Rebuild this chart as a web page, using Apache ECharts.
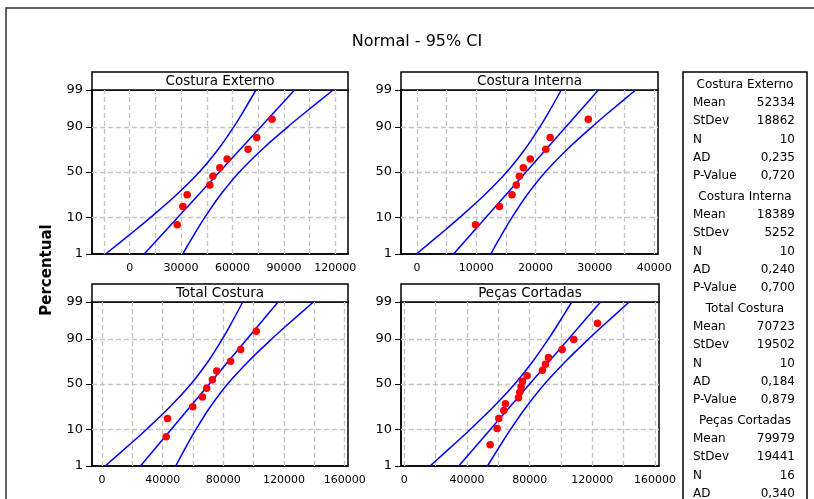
<!DOCTYPE html>
<html>
<head>
<meta charset="utf-8">
<title>Normal - 95% CI</title>
<script src="https://cdn.jsdelivr.net/npm/echarts@6/dist/echarts.min.js"></script>
<style>
html, body { margin: 0; padding: 0; background: #fff; }
#main { width: 814px; height: 499px; }
</style>
</head>
<body>
<div id="main"></div>
<script>
var FONT = 'DejaVu Sans';

var panelNames = ['Costura Externo', 'Costura Interna', 'Total Costura', 'Peças Cortadas'];

// valores observados (ordenados) e posições em percentual
var ptsExterno = [27730, 31040, 33560, 46760, 48510, 52590, 56850, 69080, 74140, 83070];
var ptsInterna = [9870, 13900, 16020, 16750, 17250, 17930, 19100, 21730, 22460, 28890];
var ptsTotal = [42300, 43180, 59840, 66190, 69040, 72770, 75620, 84820, 91400, 101700];
var ptsPecas = [54760, 59230, 60300, 63490, 64550, 72850, 73700, 74550, 75400, 78380, 88170, 90080, 92000, 100720, 108170, 123280];
var pct10 = [6.73, 16.35, 25.96, 35.58, 45.19, 54.81, 64.42, 74.04, 83.65, 93.27];
var pct16 = [4.27, 10.37, 16.46, 22.56, 28.66, 34.76, 40.85, 46.95, 53.05, 59.15, 65.24, 71.34, 77.44, 83.54, 89.63, 95.73];

// reta ajustada (x em 1% e 99%)
var fitPct = [1, 99];
var fitExterno = [8455, 96213];
var fitInterna = [6171, 30607];
var fitTotal = [25355, 116091];
var fitPecas = [34753, 125205];

// bandas de confiança 95%
var bandPct = [1, 5, 10, 25, 50, 75, 90, 95, 99];
var loExterno = [-14050, 3376, 12384, 26659, 40643, 52104, 60731, 65428, 73707];
var hiExterno = [30961, 39240, 43937, 52564, 64025, 78009, 92284, 101292, 118718];
var loInterna = [-95, 4757, 7265, 11240, 15134, 18325, 20727, 22035, 24340];
var hiInterna = [12438, 14743, 16051, 18453, 21644, 25538, 29513, 32021, 36873];
var loTotal = [2086, 20104, 29417, 44177, 58635, 70485, 79405, 84261, 92821];
var hiTotal = [48625, 57185, 62041, 70961, 82811, 97269, 112029, 121342, 139360];
var loPecas = [16415, 33389, 42208, 56312, 70453, 82538, 92039, 97346, 106866];
var hiPecas = [53092, 62612, 67919, 77420, 89505, 103646, 117750, 126569, 143543];

// eixos
var xMin = [-22000, -2700, -6600, -2100];
var xMax = [127400, 40650, 162200, 162550];
var ticksExterno = [0, 30000, 60000, 90000, 120000];
var ticksInterna = [0, 10000, 20000, 30000, 40000];
var ticksTotal = [0, 40000, 80000, 120000, 160000];
var ticksPecas = [0, 40000, 80000, 120000, 160000];
var gridExterno = [-15000, 0, 15000, 30000, 45000, 60000, 75000, 90000, 105000, 120000];
var gridInterna = [0, 5000, 10000, 15000, 20000, 25000, 30000, 35000, 40000];
var gridTotal = [0, 20000, 40000, 60000, 80000, 100000, 120000, 140000, 160000];
var gridPecas = [0, 20000, 40000, 60000, 80000, 100000, 120000, 140000, 160000];
var yTickPct = [1, 10, 50, 90, 99];
var yGridPct = [10, 50, 90];

// estatísticas da legenda
var statMean = ['52334', '18389', '70723', '79979'];
var statStDev = ['18862', '5252', '19502', '19441'];
var statN = ['10', '10', '10', '16'];
var statAD = ['0,235', '0,240', '0,184', '0,340'];
var statP = ['0,720', '0,700', '0,879', null];

// inversa da normal (Acklam) - escala de probabilidade
function probit(p) {
    var a = [-3.969683028665376e+01, 2.209460984245205e+02, -2.759285104469687e+02, 1.383577518672690e+02, -3.066479806614716e+01, 2.506628277459239e+00];
    var b = [-5.447609879822406e+01, 1.615858368580409e+02, -1.556989798598866e+02, 6.680131188771972e+01, -1.328068155288572e+01];
    var c = [-7.784894002430293e-03, -3.223964580411365e-01, -2.400758277161838e+00, -2.549732539343734e+00, 4.374664141464968e+00, 2.938163982698783e+00];
    var d = [7.784695709041462e-03, 3.224671290700398e-01, 2.445134137142996e+00, 3.754408661907416e+00];
    var pl = 0.02425, q, r;
    if (p < pl) {
        q = Math.sqrt(-2 * Math.log(p));
        return (((((c[0] * q + c[1]) * q + c[2]) * q + c[3]) * q + c[4]) * q + c[5]) / ((((d[0] * q + d[1]) * q + d[2]) * q + d[3]) * q + 1);
    }
    if (p > 1 - pl) {
        q = Math.sqrt(-2 * Math.log(1 - p));
        return -(((((c[0] * q + c[1]) * q + c[2]) * q + c[3]) * q + c[4]) * q + c[5]) / ((((d[0] * q + d[1]) * q + d[2]) * q + d[3]) * q + 1);
    }
    q = p - 0.5; r = q * q;
    return (((((a[0] * r + a[1]) * r + a[2]) * r + a[3]) * r + a[4]) * r + a[5]) * q / (((((b[0] * r + b[1]) * r + b[2]) * r + b[3]) * r + b[4]) * r + 1);
}
function z(pct) { return probit(pct / 100); }
function pairs(xs, ps) { return xs.map(function (x, i) { return [x, z(ps[i])]; }); }

var panels = [
    { pts: ptsExterno, pct: pct10, fit: fitExterno, lo: loExterno, hi: hiExterno, ticks: ticksExterno, grid: gridExterno },
    { pts: ptsInterna, pct: pct10, fit: fitInterna, lo: loInterna, hi: hiInterna, ticks: ticksInterna, grid: gridInterna },
    { pts: ptsTotal, pct: pct10, fit: fitTotal, lo: loTotal, hi: hiTotal, ticks: ticksTotal, grid: gridTotal },
    { pts: ptsPecas, pct: pct16, fit: fitPecas, lo: loPecas, hi: hiPecas, ticks: ticksPecas, grid: gridPecas }
];
var rects = [[92, 90, 256, 164], [401, 90, 257, 164], [92, 302, 256, 164], [401, 302, 258, 164]];

var zMin = z(1), zMax = z(99);
var yTickZ = yTickPct.map(z);

var option = {
    animation: false,
    title: {
        text: 'Normal - 95% CI', left: 417, top: 34, padding: 0, textAlign: 'center',
        textStyle: { fontFamily: FONT, fontSize: 16, fontWeight: 'normal', color: '#000' }
    },
    grid: [], xAxis: [], yAxis: [], series: [],
    graphic: [
        { type: 'rect', silent: true, shape: { x: 6, y: 8, width: 830, height: 520 }, style: { fill: 'none', stroke: '#333', lineWidth: 1.5 } },
        { type: 'text', x: 47, y: 270, rotation: Math.PI / 2, style: { text: 'Percentual', font: 'bold 15px "' + FONT + '"', fill: '#000', align: 'center', verticalAlign: 'middle' } },
        { type: 'rect', shape: { x: 683, y: 72, width: 124, height: 450 }, style: { fill: '#fff', stroke: '#000', lineWidth: 1.5 } }
    ]
};

panels.forEach(function (p, i) {
    var r = rects[i];
    option.grid.push({ left: r[0], top: r[1], width: r[2], height: r[3], show: true, borderColor: '#000', borderWidth: 1.5 });
    option.xAxis.push({
        type: 'value', gridIndex: i, min: xMin[i], max: xMax[i],
        axisLine: { show: true, onZero: false, lineStyle: { color: '#000', width: 1.5 } },
        axisTick: { show: true, inside: true, length: 4, customValues: p.ticks, lineStyle: { color: '#000' } },
        axisLabel: {
            customValues: p.ticks, margin: 9, fontSize: 11, fontFamily: FONT, color: '#000',
            formatter: function (v) { return String(v); }
        },
        splitLine: { show: false }
    });
    option.yAxis.push({
        type: 'value', gridIndex: i, min: zMin, max: zMax,
        axisLine: { show: true, onZero: false, lineStyle: { color: '#000', width: 1.5 } },
        axisTick: { show: true, length: 6, customValues: yTickZ, lineStyle: { color: '#000' } },
        axisLabel: {
            customValues: yTickZ, margin: 9, fontSize: 13, fontFamily: FONT, color: '#000',
            formatter: function (v) {
                for (var k = 0; k < yTickZ.length; k++) {
                    if (Math.abs(yTickZ[k] - v) < 1e-6) return String(yTickPct[k]);
                }
                return '';
            }
        },
        splitLine: { show: false }
    });
    // linhas de grade tracejadas
    option.series.push({
        type: 'line', xAxisIndex: i, yAxisIndex: i, data: [], silent: true,
        markLine: {
            z: 1, silent: true, symbol: ['none', 'none'], label: { show: false },
            lineStyle: { type: [5, 3], color: '#c4c4c4', width: 1.3 },
            data: p.grid.map(function (v) { return { xAxis: v }; }).concat(yGridPct.map(function (v) { return { yAxis: z(v) }; }))
        }
    });
    var blue = { color: '#0000ff', width: 1.5 };
    option.series.push({ type: 'line', xAxisIndex: i, yAxisIndex: i, z: 3, showSymbol: false, lineStyle: blue, data: pairs(p.fit, fitPct) });
    option.series.push({ type: 'line', xAxisIndex: i, yAxisIndex: i, z: 3, showSymbol: false, smooth: 0.3, lineStyle: blue, data: pairs(p.lo, bandPct) });
    option.series.push({ type: 'line', xAxisIndex: i, yAxisIndex: i, z: 3, showSymbol: false, smooth: 0.3, lineStyle: blue, data: pairs(p.hi, bandPct) });
    option.series.push({ type: 'scatter', xAxisIndex: i, yAxisIndex: i, z: 4, symbolSize: 7.5, itemStyle: { color: '#ff0000', opacity: 1 }, data: pairs(p.pts, p.pct) });

    // cabeçalho do painel
    option.graphic.push({ type: 'rect', shape: { x: r[0], y: r[1] - 18, width: r[2], height: 18 }, style: { fill: '#fff', stroke: '#000', lineWidth: 1.5 } });
    option.graphic.push({ type: 'text', x: r[0] + r[2] / 2, y: r[1] - 8.5, style: { text: panelNames[i], font: '13.5px "' + FONT + '"', fill: '#000', align: 'center', verticalAlign: 'middle' } });

    // bloco da legenda
    var top = 85 + i * 112;
    var lf = '12px "' + FONT + '"';
    option.graphic.push({ type: 'text', x: 745, y: top, style: { text: panelNames[i], font: lf, fill: '#000', align: 'center', verticalAlign: 'middle' } });
    var labels = ['Mean', 'StDev', 'N', 'AD', 'P-Value'];
    var vals = [statMean[i], statStDev[i], statN[i], statAD[i], statP[i]];
    var offs = [18, 36, 54.5, 73, 91];
    labels.forEach(function (lb, k) {
        if (vals[k] === null) return;
        option.graphic.push({ type: 'text', x: 693, y: top + offs[k], style: { text: lb, font: lf, fill: '#000', align: 'left', verticalAlign: 'middle' } });
        option.graphic.push({ type: 'text', x: 795, y: top + offs[k], style: { text: vals[k], font: lf, fill: '#000', align: 'right', verticalAlign: 'middle' } });
    });
});

var myChart = echarts.init(document.getElementById('main'));
myChart.setOption(option);
window.addEventListener('resize', function () {
    myChart.resize();
});
</script>
</body>
</html>
